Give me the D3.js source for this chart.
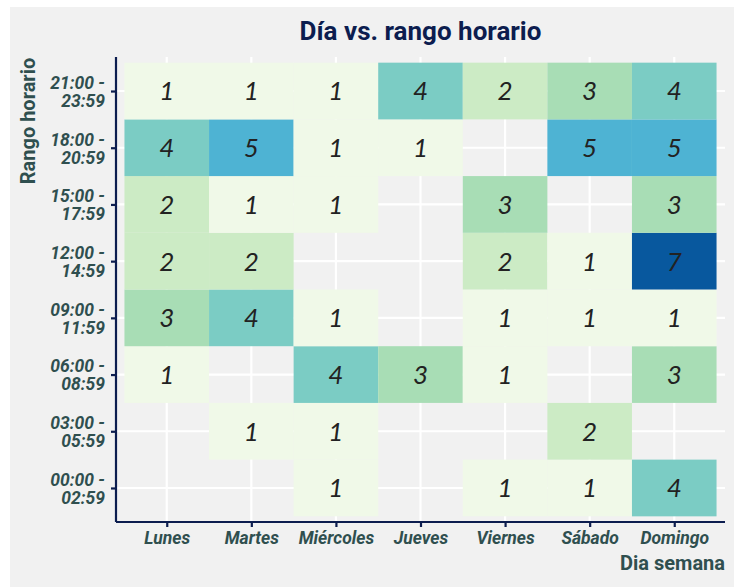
<!DOCTYPE html>
<html><head><meta charset="utf-8">
<script src="https://cdn.jsdelivr.net/npm/d3@7"></script>
<style>body{margin:0;background:#fff;}svg{display:block;}</style>
</head><body>
<svg id="chart" width="744" height="587"></svg>
<script>
const days = ["Lunes","Martes","Miércoles","Jueves","Viernes","Sábado","Domingo"];
const ranges = ["00:00 - 02:59","03:00 - 05:59","06:00 - 08:59","09:00 - 11:59","12:00 - 14:59","15:00 - 17:59","18:00 - 20:59","21:00 - 23:59"];
// counts per range (rows, bottom to top), per day; null = no data
const r0000 = [null,null,1,null,1,1,4];
const r0300 = [null,1,1,null,null,2,null];
const r0600 = [1,null,4,3,1,null,3];
const r0900 = [3,4,1,null,1,1,1];
const r1200 = [2,2,null,null,2,1,7];
const r1500 = [2,1,1,null,3,null,3];
const r1800 = [4,5,1,1,null,5,5];
const r2100 = [1,1,1,4,2,3,4];
const palette = ["#f0f9e8","#ccebc5","#a8ddb5","#7bccc4","#4eb3d3","#2b8cbe","#08589e"];

const rows = [r0000,r0300,r0600,r0900,r1200,r1500,r1800,r2100];
const cells = [];
rows.forEach((r,i)=>r.forEach((v,j)=>{ if(v!=null) cells.push({day:days[j],range:ranges[i],v}); }));

const svg = d3.select("#chart");
svg.append("rect").attr("x",10).attr("y",7).attr("width",724).attr("height",580).attr("fill","#f1f1f1");

const pL=116, pR=725, pT=57, pB=522;
const unitX=(pR-pL)/(days.length-1+1.2);
const unitY=(pB-pT)/(ranges.length-1+1.2);
const x = d3.scalePoint().domain(days).range([pL+0.6*unitX, pR-0.6*unitX]);
const y = d3.scalePoint().domain(ranges).range([pB-0.6*unitY, pT+0.6*unitY]);
const color = d3.scaleOrdinal().domain([1,2,3,4,5,6,7]).range(palette);

// grid
svg.append("g").selectAll("line").data(days).join("line")
  .attr("x1",d=>x(d)).attr("x2",d=>x(d)).attr("y1",pT).attr("y2",pB)
  .attr("stroke","#fff").attr("stroke-width",2.2);
svg.append("g").selectAll("line").data(ranges).join("line")
  .attr("y1",d=>y(d)).attr("y2",d=>y(d)).attr("x1",pL).attr("x2",pR)
  .attr("stroke","#fff").attr("stroke-width",2.2);

// tiles
svg.append("g").selectAll("rect").data(cells).join("rect")
  .attr("x",d=>x(d.day)-unitX/2).attr("y",d=>y(d.range)-unitY/2)
  .attr("width",unitX).attr("height",unitY).attr("fill",d=>color(d.v));
svg.append("g").selectAll("text").data(cells).join("text")
  .attr("x",d=>x(d.day)).attr("y",d=>y(d.range)).attr("dy","0.36em")
  .attr("text-anchor","middle").attr("font-family","Lato").attr("font-style","italic")
  .attr("font-size",26).attr("fill","#222").text(d=>d.v);

const navy="#0c1d4f", slate="#2f4f4f";
// axes
const ax = svg.append("g").attr("transform",`translate(0,${pB})`)
  .call(d3.axisBottom(x).tickSizeInner(5).tickSizeOuter(0).tickPadding(4));
ax.select(".domain").attr("stroke",navy).attr("stroke-width",2.2).attr("d",`M${pL},0H${pR}`);
ax.selectAll(".tick line").attr("stroke",navy).attr("stroke-width",2.2);
ax.selectAll(".tick text").attr("fill",slate).attr("font-family","Roboto").attr("font-weight","bold")
  .attr("font-style","italic").attr("font-size",17.5).attr("y",22).attr("dy",0);

const ay = svg.append("g").attr("transform",`translate(${pL},0)`)
  .call(d3.axisLeft(y).tickSizeInner(5).tickSizeOuter(0).tickPadding(7).tickFormat(""));
ay.select(".domain").attr("stroke",navy).attr("stroke-width",2.2).attr("d",`M0,${pT}V${pB}`);
ay.selectAll(".tick line").attr("stroke",navy).attr("stroke-width",2.2);
ay.selectAll(".tick").each(function(d){
  const parts = d.split(" - ");
  const t = d3.select(this).append("text").attr("fill",slate).attr("font-family","Roboto")
    .attr("font-weight","bold").attr("font-style","italic").attr("font-size",17.5)
    .attr("text-anchor","end").attr("x",-11);
  t.append("tspan").attr("x",-11).attr("y",-2.7).text(parts[0]+" -");
  t.append("tspan").attr("x",-11).attr("y",15.3).text(parts[1]);
});

// titles
svg.append("text").attr("x",(pL+pR)/2).attr("y",40).attr("text-anchor","middle")
  .attr("font-family","Roboto").attr("font-weight","bold").attr("font-size",26).attr("fill",navy)
  .text("Día vs. rango horario");
svg.append("text").attr("x",pR).attr("y",570).attr("text-anchor","end")
  .attr("font-family","Roboto").attr("font-weight","bold").attr("font-size",20).attr("fill",slate)
  .text("Dia semana");
svg.append("text").attr("transform",`translate(35,${(59+183)/2}) rotate(-90)`).attr("text-anchor","middle")
  .attr("font-family","Roboto").attr("font-weight","bold").attr("font-size",20).attr("fill",slate)
  .text("Rango horario");
</script>
</body></html>
